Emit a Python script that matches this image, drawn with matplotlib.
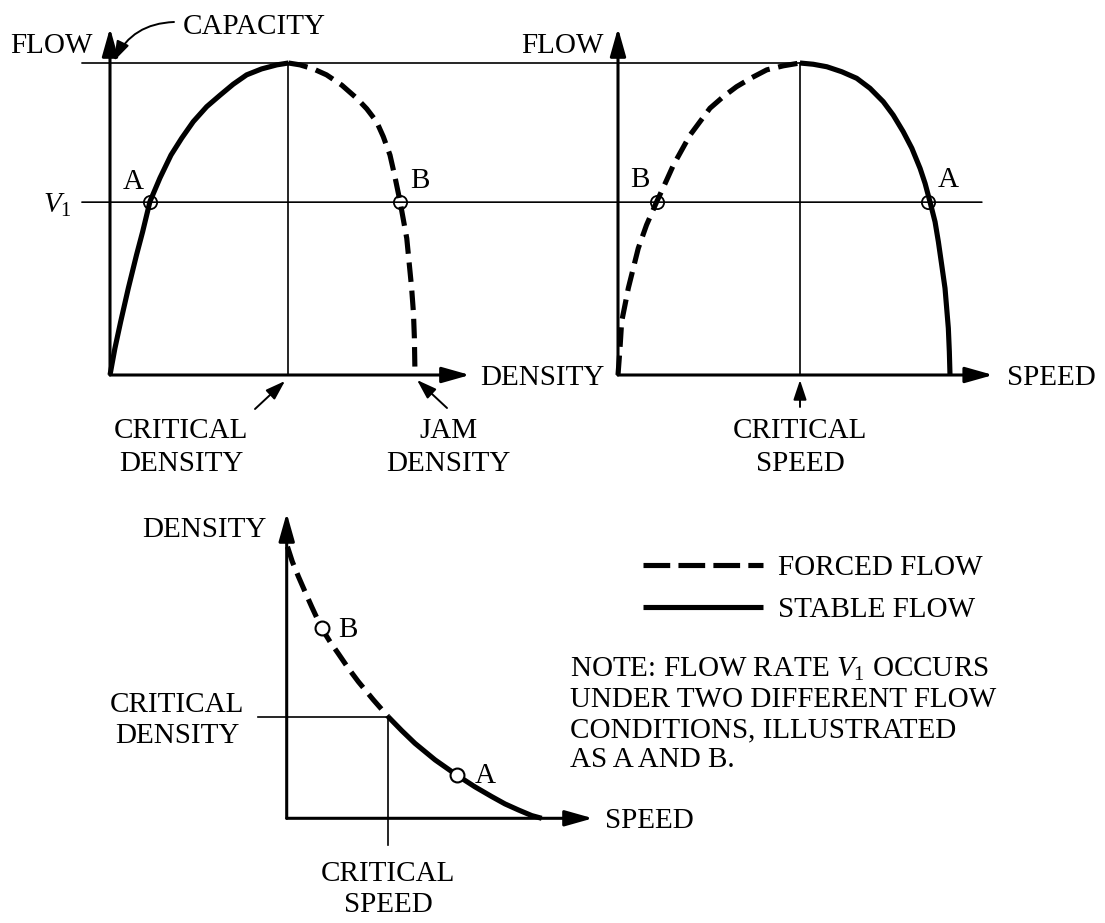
import matplotlib
matplotlib.use("Agg")
import matplotlib.pyplot as plt
from matplotlib.patches import ConnectionPatch

W, H = 1105, 923
FS = 21

plt.rcParams['font.family'] = ['Liberation Serif', 'DejaVu Serif']
plt.rcParams['mathtext.fontset'] = 'custom'
plt.rcParams['mathtext.rm'] = 'Liberation Serif'
plt.rcParams['mathtext.it'] = 'Liberation Serif:italic'

# flow vs density (density as share of jam density, flow as share of capacity)
fd_dens_stable = [0, 0.016, 0.035, 0.060, 0.087, 0.107, 0.131, 0.164, 0.200, 0.235,
                  0.273, 0.317, 0.361, 0.404, 0.448, 0.497, 0.547, 0.585]
fd_flow_stable = [0, 0.085, 0.171, 0.278, 0.385, 0.459, 0.556, 0.632, 0.705, 0.759,
                  0.812, 0.860, 0.897, 0.932, 0.962, 0.981, 0.994, 1.0]
fd_dens_forced = [0.585, 0.623, 0.667, 0.710, 0.760, 0.809, 0.842, 0.874, 0.896, 0.918,
                  0.934, 0.951, 0.962, 0.973, 0.981, 0.989, 0.995, 0.998, 1.0]
fd_flow_forced = [1.0, 0.994, 0.981, 0.962, 0.929, 0.887, 0.853, 0.812, 0.764, 0.705,
                  0.636, 0.556, 0.497, 0.438, 0.358, 0.278, 0.198, 0.118, 0.0]
crit_density = 0.584
v1 = 0.554
fd_point_a = (0.131, v1)
fd_point_b = (0.951, v1)

# flow vs speed (speed as share of free-flow speed)
fs_speed_forced = [0, 0.006, 0.011, 0.021, 0.031, 0.046, 0.061, 0.086, 0.116, 0.142, 0.167,
                   0.192, 0.217, 0.247, 0.277, 0.317, 0.357, 0.403, 0.448, 0.498, 0.548]
fs_flow_forced = [0, 0.085, 0.171, 0.224, 0.278, 0.342, 0.406, 0.481, 0.554, 0.614, 0.673,
                  0.721, 0.769, 0.812, 0.855, 0.892, 0.924, 0.953, 0.978, 0.991, 1.0]
fs_speed_stable = [0.548, 0.588, 0.629, 0.674, 0.719, 0.759, 0.799, 0.829, 0.859, 0.885,
                   0.910, 0.925, 0.940, 0.955, 0.965, 0.975, 0.985, 0.990, 0.995, 0.998, 1.0]
fs_flow_stable = [1.0, 0.996, 0.988, 0.972, 0.951, 0.919, 0.876, 0.833, 0.780, 0.727,
                  0.662, 0.614, 0.554, 0.491, 0.427, 0.353, 0.278, 0.214, 0.150, 0.075, 0.0]
crit_speed = 0.548
fs_point_b = (0.116, v1)
fs_point_a = (0.935, v1)

# density vs speed
ds_speed_forced = [0.003, 0.022, 0.046, 0.072, 0.098, 0.137, 0.170, 0.202, 0.242, 0.281,
                   0.340, 0.398]
ds_dens_forced = [1.0, 0.945, 0.890, 0.834, 0.779, 0.700, 0.650, 0.607, 0.552, 0.503,
                  0.436, 0.374]
ds_speed_stable = [0.398, 0.451, 0.503, 0.582, 0.667, 0.738, 0.804, 0.856, 0.908, 0.961, 1.0]
ds_dens_stable = [0.374, 0.323, 0.276, 0.215, 0.159, 0.116, 0.080, 0.053, 0.031, 0.010, 0.0]
ds_crit_speed = 0.398
ds_crit_density = 0.374
ds_point_b = (0.137, 0.700)
ds_point_a = (0.667, 0.159)

fig = plt.figure(figsize=(W / 100, H / 100), dpi=100)


def panel(name, ox, oy, ux, uy):
    # full-figure axes, origin at pixel (ox, oy), ux/uy pixels per unit
    ax = fig.add_axes([0, 0, 1, 1], label=name)
    ax.set_xlim(-ox / ux, (W - ox) / ux)
    ax.set_ylim(-(H - oy) / uy, oy / uy)
    ax.axis('off')
    return ax


def axis_arrow(ax, x1, y1):
    ax.annotate('', xy=(x1, y1), xytext=(0, 0),
                arrowprops=dict(arrowstyle='-|>,head_length=0.85,head_width=0.24',
                                lw=2.2, color='black', mutation_scale=20,
                                shrinkA=0, shrinkB=0))


THICK = dict(color='black', lw=3.7, solid_capstyle='butt', solid_joinstyle='round')
DASH = dict(color='black', lw=3.7, ls=(0, (3.8, 1.7)), dash_capstyle='butt')
THIN = dict(color='black', lw=1.2)

ax1 = panel('fd', 110, 375, 305, 312)
ax2 = panel('fs', 618, 375, 332, 312)
ax3 = panel('ds', 286.7, 818.3, 255, 271.6)
ov = fig.add_axes([0, 0, 1, 1], label='overlay')
ov.set_xlim(0, W)
ov.set_ylim(H, 0)
ov.axis('off')

# panel 1: flow-density
ax1.plot([crit_density, crit_density], [0, 1], **THIN)
fig.add_artist(ConnectionPatch((-0.092, 1), (crit_speed, 1), 'data', 'data',
                               axesA=ax1, axesB=ax2, **THIN))
fig.add_artist(ConnectionPatch((-0.092, v1), (1.096, v1), 'data', 'data',
                               axesA=ax1, axesB=ax2, **THIN))
ax1.plot(fd_dens_stable, fd_flow_stable, **THICK)
ax1.plot(fd_dens_forced, fd_flow_forced, **DASH)
axis_arrow(ax1, 0, 1.112)
axis_arrow(ax1, 1.18, 0)
for p in (fd_point_a, fd_point_b):
    ax1.plot(*p, 'o', ms=9.5, mfc='none', mec='black', mew=1.3)

# panel 2: flow-speed
ax2.plot([crit_speed, crit_speed], [0, 1], **THIN)
ax2.plot(fs_speed_forced, fs_flow_forced, **DASH)
ax2.plot(fs_speed_stable, fs_flow_stable, **THICK)
axis_arrow(ax2, 0, 1.112)
axis_arrow(ax2, 1.13, 0)
for p in (fs_point_a, fs_point_b):
    ax2.plot(*p, 'o', ms=9.5, mfc='none', mec='black', mew=1.3)

# panel 3: density-speed
ax3.plot([-0.113, ds_crit_speed], [ds_crit_density, ds_crit_density], **THIN)
ax3.plot([ds_crit_speed, ds_crit_speed], [-0.098, ds_crit_density], **THIN)
ax3.plot(ds_speed_forced, ds_dens_forced, **DASH)
ax3.plot(ds_speed_stable, ds_dens_stable, **THICK)
axis_arrow(ax3, 0, 1.124)
axis_arrow(ax3, 1.201, 0)
for p in (ds_point_a, ds_point_b):
    ax3.plot(*p, 'o', ms=10, mfc='white', mec='black', mew=1.5, zorder=5)


def lab(x, y, s, ha='left'):
    # y is the centre of the capitals, in image pixels
    ov.text(x, y + 10, s, ha=ha, va='baseline', fontsize=FS)


def pointer(tail, tip, rad=0.0):
    ov.annotate('', xy=tip, xytext=tail,
                arrowprops=dict(arrowstyle='-|>,head_length=0.6,head_width=0.2',
                                lw=1.4, color='black', mutation_scale=20,
                                shrinkA=0, shrinkB=0,
                                connectionstyle='arc3,rad=%s' % rad))


lab(93, 43, 'FLOW', ha='right')
lab(183, 24, 'CAPACITY')
pointer((174, 22), (114, 61), rad=0.3)
lab(133, 179, 'A', ha='center')
lab(420, 178, 'B', ha='center')
lab(43, 203, '$V_1$')
lab(480, 375, 'DENSITY')
lab(181, 428, 'CRITICAL', ha='center')
lab(181, 461, 'DENSITY', ha='center')
pointer((255, 409), (285, 381))
lab(448, 428, 'JAM', ha='center')
lab(448, 461, 'DENSITY', ha='center')
pointer((447, 408), (417, 380))

lab(604, 43, 'FLOW', ha='right')
lab(640, 177, 'B', ha='center')
lab(948, 177, 'A', ha='center')
lab(1007, 375, 'SPEED')
lab(800, 428, 'CRITICAL', ha='center')
lab(800, 461, 'SPEED', ha='center')
pointer((800, 407), (800, 380))

lab(267, 527, 'DENSITY', ha='right')
lab(177, 702, 'CRITICAL', ha='center')
lab(177, 733, 'DENSITY', ha='center')
lab(388, 871, 'CRITICAL', ha='center')
lab(388, 902, 'SPEED', ha='center')
lab(605, 818, 'SPEED')
lab(348, 627, 'B', ha='center')
lab(485, 773, 'A', ha='center')

# legend
ov.plot([643, 763], [565, 565], color='black', lw=3.7, ls=(0, (5.2, 1.6)), dash_capstyle='butt')
ov.plot([643, 763], [607, 607], **THICK)
lab(778, 565, 'FORCED FLOW')
lab(778, 607, 'STABLE FLOW')

note = ['NOTE: FLOW RATE $V_1$ OCCURS',
        'UNDER TWO DIFFERENT FLOW',
        'CONDITIONS, ILLUSTRATED',
        'AS A AND B.']
for i, line in enumerate(note):
    lab(570, 667 + 30 * i, line)

fig.savefig('out.png', dpi=100)
